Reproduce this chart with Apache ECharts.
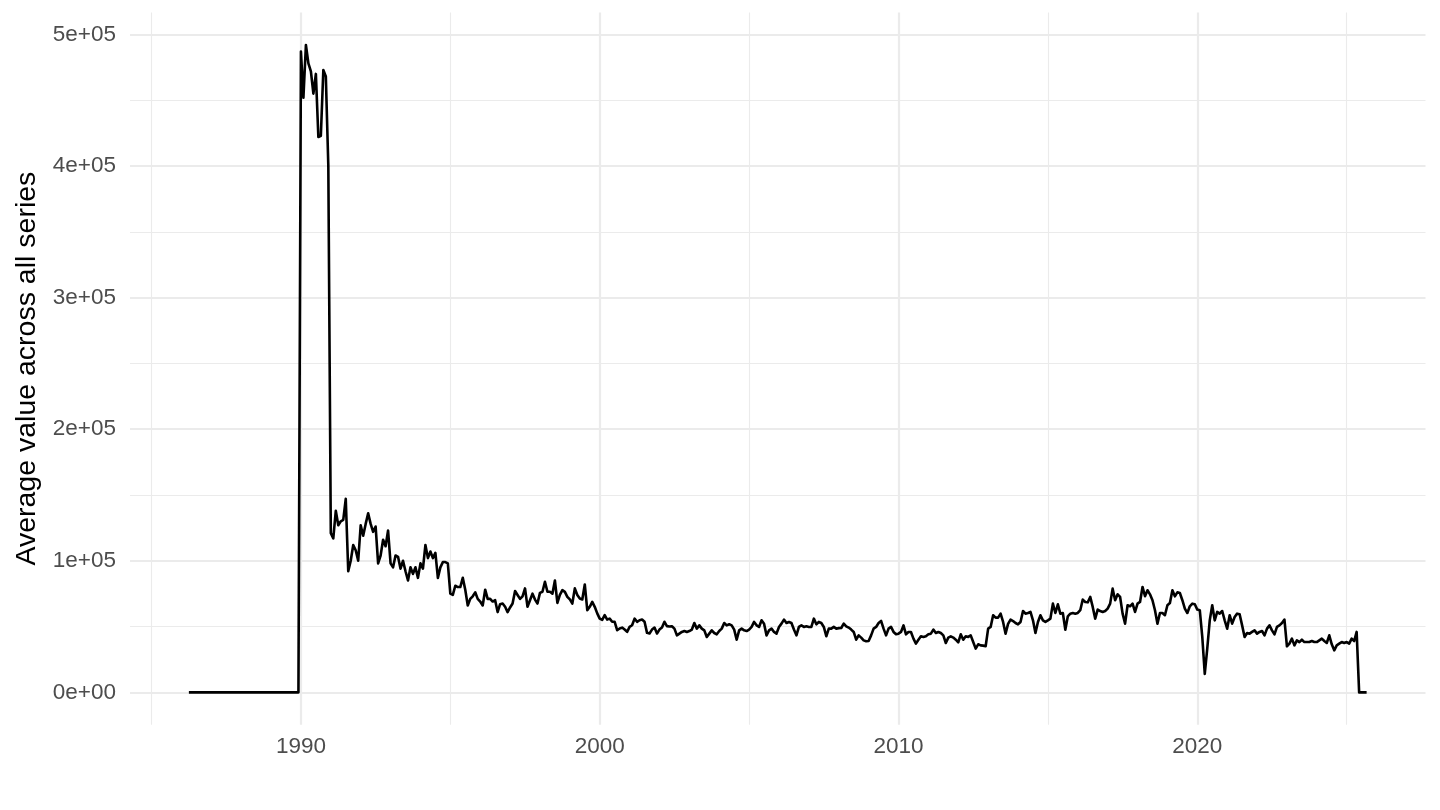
<!DOCTYPE html>
<html lang="en">
<head>
    <meta charset="UTF-8">
    <title>Average value across all series</title>
    <style>
        html, body { margin: 0; padding: 0; background: #fff; }
    </style>
</head>
<body>
<div id="container" style="width:1440px;height:810px"></div>
<script type="text/javascript" src="https://cdn.jsdelivr.net/npm/echarts@6/dist/echarts.min.js"></script>
<script type="text/javascript">
    // monthly averages, each block starts at the given year/month
    var start1980s = [1986, 4];
    var values1980s = [
        0, 0, 0, 0, 0, 0, 0, 0, 0,
        0, 0, 0, 0, 0, 0, 0, 0, 0, 0, 0, 0,
        0, 0, 0, 0, 0, 0, 0, 0, 0, 0, 0, 0,
        0, 0, 0, 0, 0, 0, 0, 0, 0, 0, 0, 0
    ];
    var start1990s = [1990, 1];
    var values1990s = [
        487000, 452000, 492000, 478000, 472000, 455000, 470000, 422000, 423000, 473000, 468000, 400000,
        121000, 117000, 138000, 127000, 130000, 131000, 147000, 92000, 100000, 112000, 108000, 100000,
        127000, 119000, 128000, 136000, 128000, 122000, 126000, 98000, 104000, 116000, 111000, 123000,
        98000, 95000, 104000, 103000, 94000, 100000, 92000, 85000, 95000, 90000, 95000, 87000,
        98000, 94000, 112000, 102000, 107000, 102000, 106000, 87000, 95000, 99000, 99000, 98000,
        75000, 74000, 81000, 80000, 80000, 87000, 78000, 66000, 71000, 73000, 76000, 71000,
        69000, 66000, 78000, 71000, 71000, 69000, 70000, 61000, 67000, 67500, 65000, 61000,
        64500, 67500, 77000, 74000, 71000, 73000, 79000, 65000, 70000, 75000, 70500, 67500,
        75600, 76400, 84000, 76400, 76400, 75000, 85000, 68000, 74000, 77700, 76400, 72600,
        70600, 67500, 79000, 74000, 71300, 70600, 82000, 62400, 65000, 68800, 65000, 60000
    ];
    var start2000s = [2000, 1];
    var values2000s = [
        56000, 55000, 58600, 55300, 56000, 53600, 53600, 47200, 48500, 49200, 47700, 46000,
        49800, 51000, 56000, 53600, 54800, 55300, 53600, 45200, 44700, 47700, 49200, 44700,
        47700, 49200, 53600, 50300, 50000, 50200, 48400, 43300, 44600, 45900, 46600, 45900,
        46600, 47700, 52700, 48400, 50900, 48400, 47100, 42100, 44600, 47100, 45100, 44100,
        46600, 48400, 52700, 50900, 51700, 50900, 47700, 40000, 47100, 48400, 47100, 46600,
        47700, 49700, 53500, 50900, 49700, 54800, 52200, 43300, 47100, 48400, 45900, 44600,
        49700, 52200, 55300, 52700, 53500, 52700, 47700, 43300, 49700, 50900, 49700, 50200,
        49700, 49700, 56000, 51700, 53500, 52700, 49700, 42600, 48400, 48400, 49700, 48400,
        48800, 48900, 52200, 50200, 49200, 47700, 45900, 40000, 43300, 41600, 39500, 38800,
        39000, 43300, 48400, 49700, 52700, 54300, 48400, 43300, 48400, 49700, 45900, 44100
    ];
    var start2010s = [2010, 1];
    var values2010s = [
        44600, 45900, 50900, 44100, 45900, 45900, 40800, 37000, 40000, 42600, 42100, 42600,
        44100, 44600, 47700, 45100, 45900, 45100, 43300, 37500, 41600, 42600, 41600, 40000,
        38000, 44100, 40000, 42600, 42100, 43300, 38300, 33200, 36500, 35700, 35500, 35000,
        48400, 49700, 58600, 56800, 56800, 59800, 53500, 44600, 52000, 55300, 54200, 52700,
        51700, 53500, 61800, 59800, 60300, 61100, 54700, 45100, 53500, 58600, 54700, 53500,
        54700, 56000, 67400, 60300, 66900, 59800, 60300, 47600, 57800, 59800, 60300, 59800,
        60300, 62400, 70500, 68700, 68400, 72500, 64900, 56000, 62900, 61800, 61100, 61800,
        63600, 67400, 78800, 70000, 74500, 72500, 59800, 52200, 66200, 65400, 67400, 61100,
        67400, 68700, 80100, 73000, 77600, 74500, 70000, 62400, 52200, 60300, 60300, 58600,
        66200, 67900, 77600, 73000, 76000, 75500, 70000, 63600, 60300, 65400, 67400, 66900
    ];
    var start2020s = [2020, 1];
    var values2020s = [
        62900, 62400, 42100, 14000, 33200, 54700, 66200, 54700, 61100, 59800, 61800, 54700,
        48400, 58600, 52200, 57300, 59800, 59300, 50900, 42100, 45100, 44600, 45900, 47100,
        44600, 45900, 46600, 43300, 48400, 50900, 47100, 44100, 49700, 50900, 52700, 55300,
        35000, 37000, 40800, 35700, 39500, 38200, 40000, 38200, 38200, 38200, 39000, 38200,
        38200, 39500, 40800, 39000, 37500, 43300, 36500, 31900, 35700, 37000, 38200, 37500,
        38200, 37000, 40800, 39000, 45900, 0, 0, 0, 0
    ];

    var yearTicks = [1990, 2000, 2010, 2020];
    var yearMinor = [1985, 1995, 2005, 2015, 2025];
    var valueTicks = [0, 100000, 200000, 300000, 400000, 500000];
    var valueMinor = [50000, 150000, 250000, 350000, 450000];

    // turn each block into [decimal year, value] pairs
    function block(startYm, vals) {
        return vals.map(function (v, i) {
            var m = startYm[1] - 1 + i;
            return [startYm[0] + m / 12, v];
        });
    }
    var data = [].concat(
        block(start1980s, values1980s),
        block(start1990s, values1990s),
        block(start2000s, values2000s),
        block(start2010s, values2010s),
        block(start2020s, values2020s)
    );

    // ggplot style 5% expansion of the data range
    var xLo = data[0][0], xHi = data[data.length - 1][0];
    var xPad = (xHi - xLo) * 0.05;
    var yHi = Math.max.apply(null, data.map(function (d) { return d[1]; }));
    var yPad = yHi * 0.05;

    var font = 'Liberation Sans, Arial, Helvetica, sans-serif';
    var gridColor = '#EBEBEB';

    function sci(v) {
        var s = Number(v).toExponential(0);
        return s.replace(/e([+-])(\d)$/, 'e$10$2');
    }

    var dom = document.getElementById('container');
    var myChart = echarts.init(dom, null, { renderer: 'canvas' });

    var option = {
        animation: false,
        backgroundColor: '#ffffff',
        grid: {
            left: 130,
            right: 14.5,
            top: 12.6,
            bottom: 85.3,
            outerBoundsMode: 'none'
        },
        xAxis: [
            {
                type: 'value',
                min: xLo - xPad,
                max: xHi + xPad,
                axisLine: { show: false },
                axisTick: { show: false, customValues: yearTicks },
                axisLabel: {
                    customValues: yearTicks,
                    formatter: function (v) { return String(v); },
                    color: '#4D4D4D',
                    fontSize: 22.5,
                    fontFamily: font,
                    margin: 11
                },
                splitLine: { show: true, lineStyle: { color: gridColor, width: 2.2 } }
            },
            {
                type: 'value',
                gridIndex: 0,
                position: 'bottom',
                min: xLo - xPad,
                max: xHi + xPad,
                axisLine: { show: false },
                axisTick: { show: false, customValues: yearMinor },
                axisLabel: { show: false },
                splitLine: { show: true, lineStyle: { color: gridColor, width: 1.1 } }
            }
        ],
        yAxis: [
            {
                type: 'value',
                min: -yPad,
                max: yHi + yPad,
                name: 'Average value across all series',
                nameLocation: 'middle',
                nameGap: 88,
                nameMoveOverlap: false,
                nameTextStyle: { color: '#000000', fontSize: 28.5, fontFamily: font },
                axisLine: { show: false },
                axisTick: { show: false, customValues: valueTicks },
                axisLabel: {
                    customValues: valueTicks,
                    formatter: sci,
                    color: '#4D4D4D',
                    fontSize: 22.5,
                    fontFamily: font,
                    margin: 14
                },
                splitLine: { show: true, lineStyle: { color: gridColor, width: 2.2 } }
            },
            {
                type: 'value',
                gridIndex: 0,
                position: 'left',
                min: -yPad,
                max: yHi + yPad,
                axisLine: { show: false },
                axisTick: { show: false, customValues: valueMinor },
                axisLabel: { show: false },
                splitLine: { show: true, lineStyle: { color: gridColor, width: 1.1 } }
            }
        ],
        series: [
            {
                name: 'Average',
                type: 'line',
                xAxisIndex: 0,
                yAxisIndex: 0,
                data: data,
                showSymbol: false,
                symbol: 'none',
                smooth: false,
                lineStyle: { color: '#000000', width: 2.6, join: 'round' }
            }
        ]
    };

    myChart.setOption(option);
    window.addEventListener('resize', myChart.resize);
</script>
</body>
</html>
